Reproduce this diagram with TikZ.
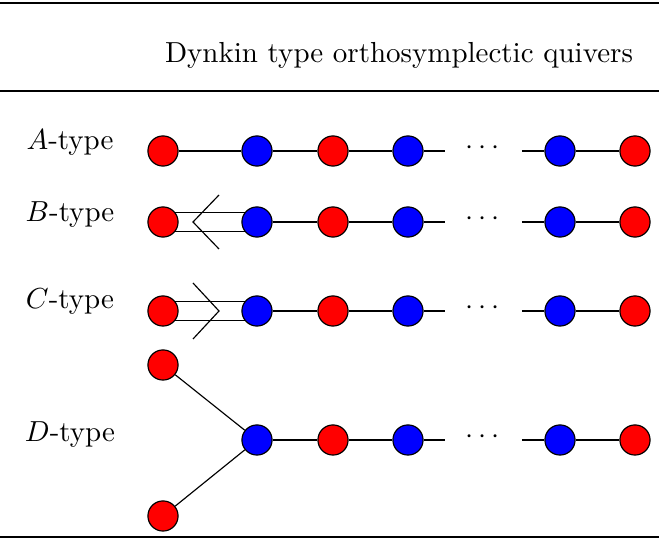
\documentclass[tikz,border=0pt]{standalone}
\usepackage{amsmath, amssymb}
\usepackage{tikz}
\usetikzlibrary{positioning, calc, backgrounds}
\usepackage{xcolor}

\begin{document}
\begin{tikzpicture}[x=0.345pt, y=-0.345pt,
    onode/.style={draw, circle, fill=red, minimum size=10.4pt, inner sep=0pt},
    spnode/.style={draw, circle, fill=blue, minimum size=10.4pt, inner sep=0pt},
    lbl/.style={anchor=center}]
    \useasboundingbox (0,0) rectangle (659,539);
    % rules of the table
    \draw[line width=0.8pt] (0,3) -- (659,3);
    \draw[line width=0.5pt] (0,91) -- (659,91);
    \draw[line width=0.8pt] (0,537) -- (659,537);
    \node (title) at (399,55) {Dynkin type orthosymplectic quivers};

    % A-type
    \node[lbl] (la) at (70,143) {$A$-type};
    \node[onode] (a1) at (163,151) {};
    \node[spnode] (a2) at (257,151) {};
    \node[onode] (a3) at (333,151) {};
    \node[spnode] (a4) at (408,151) {};
    \node (ad) at (485,148) {$\cdots$};
    \node[spnode] (a5) at (560,151) {};
    \node[onode] (a6) at (635,151) {};
    \coordinate (ae1) at (445,151);
    \coordinate (ae2) at (522,151);

    % B-type
    \node[lbl] (lb) at (70,215) {$B$-type};
    \node[onode] (b1) at (163,222) {};
    \node[spnode] (b2) at (257,222) {};
    \node[onode] (b3) at (333,222) {};
    \node[spnode] (b4) at (408,222) {};
    \node (bd) at (485,219) {$\cdots$};
    \node[spnode] (b5) at (560,222) {};
    \node[onode] (b6) at (635,222) {};
    \coordinate (be1) at (445,222);
    \coordinate (be2) at (522,222);
    \coordinate (bv) at (193,222);

    % C-type
    \node[lbl] (lc) at (70,302) {$C$-type};
    \node[onode] (c1) at (163,311) {};
    \node[spnode] (c2) at (257,311) {};
    \node[onode] (c3) at (333,311) {};
    \node[spnode] (c4) at (408,311) {};
    \node (cd) at (485,308) {$\cdots$};
    \node[spnode] (c5) at (560,311) {};
    \node[onode] (c6) at (635,311) {};
    \coordinate (ce1) at (445,311);
    \coordinate (ce2) at (522,311);
    \coordinate (cv) at (219,311);

    % D-type
    \node[lbl] (ld) at (70,435) {$D$-type};
    \node[onode] (d0) at (163,365) {};
    \node[onode] (d1) at (163,516) {};
    \node[spnode] (d2) at (257,440) {};
    \node[onode] (d3) at (333,440) {};
    \node[spnode] (d4) at (408,440) {};
    \node (dd) at (485,437) {$\cdots$};
    \node[spnode] (d5) at (560,440) {};
    \node[onode] (d6) at (635,440) {};
    \coordinate (de1) at (445,440);
    \coordinate (de2) at (522,440);

    \begin{scope}[on background layer]
        \draw (a1) -- (a2) -- (a3) -- (a4) -- (ae1);
        \draw (ae2) -- (a5) -- (a6);
        \draw ([yshift=3.3pt]b1.center) -- ([yshift=3.3pt]b2.center);
        \draw ([yshift=-3.3pt]b1.center) -- ([yshift=-3.3pt]b2.center);
        \draw (b2) -- (b3) -- (b4) -- (be1);
        \draw (be2) -- (b5) -- (b6);
        \draw ([yshift=3.3pt]c1.center) -- ([yshift=3.3pt]c2.center);
        \draw ([yshift=-3.3pt]c1.center) -- ([yshift=-3.3pt]c2.center);
        \draw (c2) -- (c3) -- (c4) -- (ce1);
        \draw (ce2) -- (c5) -- (c6);
        \draw (d0) -- (d2) -- (d1);
        \draw (d2) -- (d3) -- (d4) -- (de1);
        \draw (de2) -- (d5) -- (d6);
    \end{scope}
    % arrows of the double edges
    \draw (bv) ++(26,-27) -- (bv) -- ++(26,27);
    \draw (cv) ++(-26,-28) -- (cv) -- ++(-26,28);
\end{tikzpicture}
\end{document}
